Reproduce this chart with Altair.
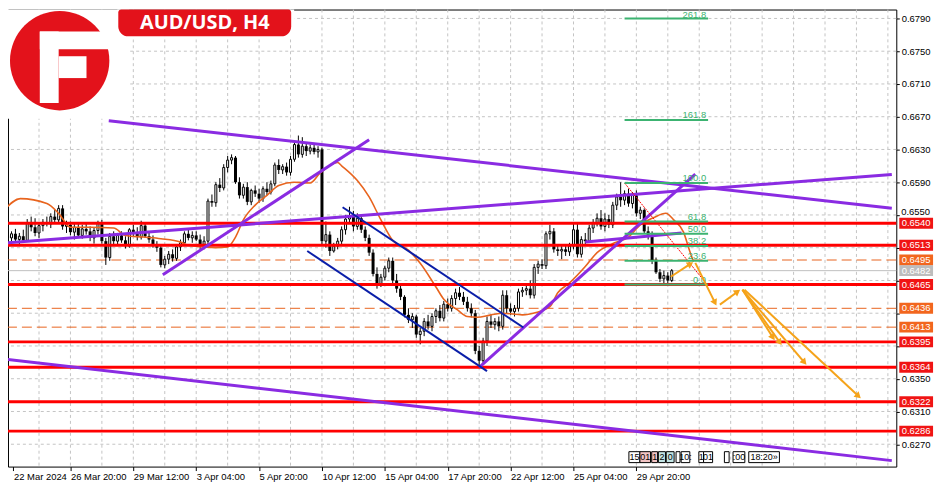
import json
import math
import altair as alt
import pandas as pd

FONT = "Liberation Sans"

# ---------------- candle data (prices in 1/10000) ----------------
OPEN = [6525,6522,6527,6520,6524,6519,6540,6535,6528,6537,
        6541,6539,6548,6544,6558,6536,6538,6529,6535,6525,
        6533,6530,6522,6531,6540,6518,6498,6524,6518,6525,
        6519,6512,6532,6528,6523,6537,6524,6520,6513,6510,
        6489,6496,6502,6497,6511,6516,6527,6522,6525,6520,
        6514,6518,6567,6565,6587,6583,6608,6617,6620,6590,
        6574,6584,6566,6580,6576,6570,6582,6578,6588,6611,
        6605,6609,6602,6618,6636,6624,6634,6628,6632,6627,
        6630,6518,6526,6506,6512,6518,6532,6545,6548,6536,
        6546,6532,6522,6504,6478,6466,6474,6485,6494,6470,
        6460,6450,6428,6422,6426,6404,6408,6420,6414,6426,
        6433,6424,6441,6436,6448,6455,6450,6444,6436,6430,
        6384,6372,6396,6420,6416,6420,6414,6452,6436,6432,
        6436,6456,6458,6460,6452,6486,6490,6488,6527,6530,
        6508,6506,6508,6505,6512,6532,6502,6520,6518,6534,
        6540,6546,6536,6545,6538,6562,6572,6568,6576,6564,
        6574,6552,6556,6530,6524,6494,6480,6472,6476,6470]
HIGH = [6532,6530,6533,6528,6532,6545,6548,6546,6540,6545,
        6548,6552,6556,6562,6562,6543,6542,6540,6540,6538,
        6540,6536,6535,6543,6544,6522,6528,6530,6528,6530,
        6524,6534,6538,6535,6543,6540,6530,6525,6518,6513,
        6500,6506,6508,6514,6520,6530,6532,6530,6530,6526,
        6524,6570,6575,6590,6595,6612,6622,6624,6622,6596,
        6588,6590,6582,6586,6582,6585,6590,6592,6614,6618,
        6612,6614,6622,6640,6647,6645,6638,6636,6636,6634,
        6632,6542,6530,6516,6522,6536,6550,6560,6555,6552,
        6550,6536,6526,6508,6486,6478,6488,6498,6498,6478,
        6464,6452,6436,6430,6428,6412,6424,6428,6430,6436,
        6440,6445,6448,6452,6460,6462,6456,6450,6442,6434,
        6390,6400,6426,6428,6424,6426,6458,6458,6442,6440,
        6460,6462,6466,6470,6490,6494,6496,6530,6538,6534,
        6514,6512,6514,6516,6540,6540,6524,6528,6538,6545,
        6552,6556,6552,6550,6566,6576,6590,6580,6582,6578,
        6580,6560,6558,6536,6530,6498,6484,6482,6480,6484]
LOW = [6518,6515,6518,6514,6517,6517,6530,6524,6522,6530,
       6536,6534,6540,6540,6532,6528,6525,6520,6522,6521,
       6526,6518,6515,6526,6515,6489,6494,6512,6514,6516,
       6509,6510,6524,6519,6520,6522,6516,6510,6505,6486,
       6485,6490,6493,6494,6506,6512,6519,6516,6518,6508,
       6508,6512,6560,6560,6578,6580,6602,6612,6588,6570,
       6570,6562,6562,6572,6565,6566,6574,6575,6585,6600,
       6600,6598,6598,6615,6620,6620,6622,6624,6624,6620,
       6512,6510,6500,6504,6508,6514,6526,6540,6530,6532,
       6528,6518,6500,6475,6460,6462,6470,6480,6466,6455,
       6446,6425,6418,6412,6400,6392,6402,6410,6408,6418,
       6420,6420,6432,6432,6440,6446,6440,6432,6425,6380,
       6365,6368,6390,6412,6410,6408,6410,6430,6428,6426,
       6432,6450,6452,6448,6448,6478,6484,6484,6520,6504,
       6500,6496,6500,6500,6508,6498,6498,6514,6516,6528,
       6536,6532,6530,6534,6534,6556,6560,6562,6560,6558,
       6548,6545,6528,6520,6490,6478,6468,6466,6464,6468]
CLOSE = [6522,6527,6520,6524,6519,6540,6535,6528,6537,6541,
         6539,6548,6544,6558,6536,6538,6529,6535,6525,6533,
         6530,6522,6531,6540,6518,6498,6524,6518,6525,6519,
         6512,6532,6528,6523,6537,6524,6520,6513,6510,6489,
         6496,6502,6497,6511,6516,6527,6522,6525,6520,6514,
         6518,6567,6565,6587,6583,6608,6617,6620,6590,6574,
         6584,6566,6580,6576,6570,6582,6578,6588,6611,6605,
         6609,6602,6618,6636,6624,6634,6628,6632,6627,6630,
         6518,6526,6506,6512,6518,6532,6545,6548,6536,6546,
         6532,6522,6504,6478,6466,6474,6485,6494,6470,6460,
         6450,6428,6422,6426,6404,6408,6420,6414,6426,6433,
         6424,6441,6436,6448,6455,6450,6444,6436,6430,6384,
         6372,6396,6420,6416,6420,6414,6452,6436,6432,6436,
         6456,6458,6460,6452,6486,6490,6488,6527,6530,6508,
         6506,6508,6505,6512,6532,6502,6520,6518,6534,6540,
         6546,6536,6545,6538,6562,6572,6568,6576,6564,6574,
         6552,6556,6530,6524,6494,6480,6472,6476,6470,6482]

# moving average (bar index, price in 1/10000)
MA_I = [-0.5, 3.25, 10, 13, 16, 21, 27, 30, 34.5, 39, 44, 46, 53, 56, 58, 60, 63, 66, 69, 73,
        77, 79.5, 84, 85, 89, 92, 95, 98, 102, 105, 109, 111, 114.5, 117, 119.5, 123, 126, 131,
        134.5, 138, 140, 143, 147, 150, 154.5, 158, 161, 164.5, 167.5, 169.5, 172, 173.5, 174.5]
MA_P = [6558, 6570, 6564, 6552, 6535, 6535, 6534, 6525, 6523, 6521, 6517, 6513, 6510, 6511, 6523,
        6544, 6562, 6574, 6586, 6590, 6589, 6601, 6614, 6610, 6592, 6572, 6544, 6519, 6507, 6491,
        6462, 6447, 6434, 6426, 6425, 6428, 6430, 6428, 6431, 6438, 6455, 6467, 6487, 6504, 6516,
        6523, 6538, 6547, 6552, 6544, 6529, 6507, 6493]

# axes
X_TICK_POS = [1.5, 16, 32, 48, 64, 80, 96, 112, 128, 144, 160]
X_TICK_LABELS = ["22 Mar 2024", "26 Mar 20:00", "29 Mar 12:00", "3 Apr 04:00", "5 Apr 20:00",
                 "10 Apr 12:00", "15 Apr 04:00", "17 Apr 20:00", "22 Apr 12:00", "25 Apr 04:00",
                 "29 Apr 20:00"]
Y_TICKS = [0.6270, 0.6310, 0.6350, 0.6390, 0.6430, 0.6470, 0.6510, 0.6550, 0.6590, 0.6630,
           0.6670, 0.6710, 0.6750, 0.6790]
Y_HIDDEN = ["0.6390", "0.6430", "0.6470", "0.6510", "0.6550"]   # covered by / drawn apart from tags
Y_RAISED = [0.6550]          # label drawn separately, nudged above the 0.6540 tag
GRID_I = list(range(8, 225, 8))

# horizontal levels
RED_LEVELS = [0.6540, 0.6513, 0.6465, 0.6395, 0.6364, 0.6322, 0.6286]
ORANGE_LEVELS = [0.6495, 0.6436, 0.6413]
CURRENT_PRICE = 0.6482

# trend lines: (i1, p1, i2, p2)
PURPLE_LINES = [(25.75, 0.66650, 225, 0.65582),
                (-0.5, 0.65157, 225, 0.65995),
                (39.5, 0.64769, 92, 0.66419),
                (120, 0.63640, 175, 0.65999),
                (147, 0.65169, 171.5, 0.65279),
                (-0.5, 0.63737, 225, 0.62500)]
BLUE_LINES = [(85.25, 0.65594, 131.25, 0.64126),
              (76.25, 0.65060, 122, 0.63592)]
ARROWS = [(168.75, 0.64745, 173.75, 0.64902),
          (175, 0.64915, 180, 0.64429),
          (181.25, 0.64405, 185.75, 0.64563),
          (187, 0.64587, 194.75, 0.64004),
          (187, 0.64587, 196.5, 0.63944),
          (187, 0.64587, 202.75, 0.63701),
          (187.5, 0.64587, 216.5, 0.63288)]

# fibonacci
FIB_LABELS = ["0.0", "23.6", "38.2", "50.0", "61.8", "100.0", "161.8", "261.8"]
FIB_PRICES = [0.6465, 0.6494, 0.6512, 0.6527, 0.6542, 0.6589, 0.6666, 0.6790]
FIB_START, FIB_END = 157, 178.25
FIB_DIAG = (157, 0.6589, 178, 0.6465)

# time markers along the bottom
TM_TEXT = ["15", "01", "1", "2", "0", "", "10:", "1", "01", "", ":00", "18:20\u00bb"]
TM_I0 = [158.1, 160.9, 163.9, 165.6, 167.6, 170.1, 171.4, 175.9, 177.1, 182.4, 184.6, 188.6]
TM_I1 = [160.9, 163.6, 165.4, 167.4, 169.6, 171.1, 173.6, 177.1, 179.4, 183.6, 187.6, 196.4]
TM_FILL = ["white", "#F2C4C4", "#F2C4C4", "#C4E6E6", "#C4E6E6", "white", "white", "white",
           "white", "white", "white", "white"]

# ---------------- build ----------------
W, H = 894, 460
PX_BAR, PX_PRICE = 4.0, 8240.0
XS = alt.Scale(domain=[1.375, 224.875], nice=False, zero=False)
YS = alt.Scale(domain=[0.62427, 0.68009], nice=False, zero=False)

X_AXIS = alt.Axis(orient="bottom", values=X_TICK_POS,
                  labelExpr=json.dumps(X_TICK_LABELS) + "[round(datum.value / 16)]",
                  title=None, grid=False, domain=False, labelAlign="left", labelBaseline="top",
                  labelOverlap=False, labelFlush=False, tickSize=4, tickColor="#000",
                  labelPadding=1, labelFont=FONT, labelFontSize=9.5, labelColor="#000")
Y_AXIS = alt.Axis(orient="right", values=Y_TICKS, title=None, grid=False,
                  labelExpr="indexof(" + json.dumps(Y_HIDDEN) + ", format(datum.value, '.4f')) >= 0"
                            " ? '' : format(datum.value, '.4f')",
                  domain=False, tickSize=3, tickColor="#000", labelPadding=2, labelFont=FONT,
                  labelFontSize=9.5, labelColor="#000", labelOverlap=False)


def X(f):
    return alt.X(f, type="quantitative", scale=XS, axis=X_AXIS)


def Y(f):
    return alt.Y(f, type="quantitative", scale=YS, axis=Y_AXIS)


cd = pd.DataFrame({"i": list(range(len(OPEN))),
                   "o": [v / 10000 for v in OPEN], "h": [v / 10000 for v in HIGH],
                   "l": [v / 10000 for v in LOW], "c": [v / 10000 for v in CLOSE]})
cd["top"] = cd[["o", "c"]].max(axis=1)
cd["bot"] = cd[["o", "c"]].min(axis=1)
bull = cd[cd["c"] >= cd["o"]]
bear = cd[cd["c"] < cd["o"]]

layers = []
# grid
layers.append(alt.Chart(pd.DataFrame({"i": GRID_I})).mark_rule(
    color="#C4C4C4", strokeDash=[3, 3], strokeWidth=1).encode(x=X("i")))
layers.append(alt.Chart(pd.DataFrame({"p": Y_TICKS})).mark_rule(
    color="#C4C4C4", strokeDash=[3, 3], strokeWidth=1).encode(y=Y("p")))
# current price line
layers.append(alt.Chart(pd.DataFrame({"p": [CURRENT_PRICE]})).mark_rule(
    color="#C0C0C0", strokeWidth=1).encode(y=Y("p")))
# orange dashed levels
layers.append(alt.Chart(pd.DataFrame({"p": ORANGE_LEVELS})).mark_rule(
    color="#E8641E", strokeDash=[10, 5], strokeWidth=1).encode(y=Y("p")))
# candles
layers.append(alt.Chart(cd).mark_rule(color="#000", strokeWidth=1).encode(
    x=X("i"), y=Y("l"), y2="h:Q"))
layers.append(alt.Chart(bull).mark_bar(size=2, fill="white", stroke="#000", strokeWidth=1).encode(
    x=X("i"), y=Y("bot"), y2="top:Q"))
layers.append(alt.Chart(bear).mark_bar(size=3, color="#000").encode(
    x=X("i"), y=Y("top"), y2="bot:Q"))
# moving average
ma = pd.DataFrame({"i": MA_I, "p": [v / 10000 for v in MA_P]})
layers.append(alt.Chart(ma).mark_line(color="#E8641E", strokeWidth=1.6, interpolate="monotone",
                                      clip=True).encode(x=X("i"), y=Y("p")))
# red levels
layers.append(alt.Chart(pd.DataFrame({"p": RED_LEVELS})).mark_rule(
    color="#FF0000", strokeWidth=3).encode(y=Y("p")))


def seg_df(rows):
    return pd.DataFrame(rows, columns=["i1", "p1", "i2", "p2"])


layers.append(alt.Chart(seg_df(PURPLE_LINES)).mark_rule(color="#8A2BE2", strokeWidth=3, clip=True)
              .encode(x=X("i1"), y=Y("p1"), x2="i2:Q", y2="p2:Q"))
layers.append(alt.Chart(seg_df(BLUE_LINES)).mark_rule(color="#0A1EA8", strokeWidth=2, clip=True)
              .encode(x=X("i1"), y=Y("p1"), x2="i2:Q", y2="p2:Q"))
# fibonacci
fib = pd.DataFrame({"p": FIB_PRICES, "t": FIB_LABELS, "i0": FIB_START, "i1": FIB_END,
                    "it": FIB_END - 0.5})
layers.append(alt.Chart(seg_df([FIB_DIAG])).mark_rule(color="#FF0000", strokeWidth=1,
                                                     strokeDash=[2, 1])
              .encode(x=X("i1"), y=Y("p1"), x2="i2:Q", y2="p2:Q"))
layers.append(alt.Chart(fib).mark_rule(color="#3CB371", strokeWidth=2).encode(
    x=X("i0"), x2="i1:Q", y=Y("p")))
layers.append(alt.Chart(fib.iloc[:-1]).mark_text(
    color="#3CB371", align="right", baseline="middle", dy=-5, font=FONT, fontSize=9.5).encode(
    x=X("it"), y=Y("p"), text="t:N"))
layers.append(alt.Chart(fib.iloc[-1:]).mark_text(
    color="#3CB371", align="right", baseline="middle", dy=-3.5, font=FONT, fontSize=9.5).encode(
    x=X("it"), y=Y("p"), text="t:N"))
# arrows
arr = seg_df(ARROWS)
arr["ang"] = [math.degrees(math.atan2((r.i2 - r.i1) * PX_BAR, (r.p2 - r.p1) * PX_PRICE)) % 360
              for r in arr.itertuples()]
AC = "#F5A31A"
layers.append(alt.Chart(arr).mark_rule(color=AC, strokeWidth=2).encode(
    x=X("i1"), y=Y("p1"), x2="i2:Q", y2="p2:Q"))
layers.append(alt.Chart(arr).mark_point(shape="triangle-up", filled=True, size=55, color=AC,
                                        opacity=1, strokeWidth=0).encode(
    x=X("i2"), y=Y("p2"), angle=alt.Angle("ang:Q", scale=None)))

# decorations: white covers, logo, title
ONE = pd.DataFrame({"k": [0]})
RED = "#E3121B"


def rect(x0, x1, y0, y1, color, **kw):
    return alt.Chart(ONE).mark_rect(color=color, opacity=1, **kw).encode(
        x=alt.value(x0), x2=alt.value(x1), y=alt.value(y0), y2=alt.value(y1))


layers.append(rect(0, 122, 0, 110, "white"))
layers.append(rect(110, 288, 0, 30, "white"))
layers.append(alt.Chart(ONE).mark_point(shape="circle", filled=True, size=10000, color=RED,
                                        opacity=1, strokeWidth=0).encode(
    x=alt.value(52), y=alt.value(51.5)))
layers.append(rect(32, 51, 22, 94, "white"))          # stem of the F
layers.append(rect(32, 106, 22, 40, "white"))         # top arm, opening the circle
layers.append(rect(51, 79, 47, 69, "white"))          # middle arm
layers.append(rect(111, 285, 0, 27, RED, cornerRadiusTopLeft=3, cornerRadiusTopRight=3,
                   cornerRadiusBottomLeft=10, cornerRadiusBottomRight=10))
layers.append(alt.Chart(ONE).mark_text(text="AUD/USD, H4", font="Open Sans", fontWeight="bold",
                                       fontSize=20, color="white", baseline="middle",
                                       align="center").encode(x=alt.value(198), y=alt.value(14)))

# price label drawn apart from the axis, nudged above its neighbouring tag
raised = pd.DataFrame({"p": Y_RAISED})
raised["t"] = [f"{v:.4f}" for v in raised["p"]]
layers.append(alt.Chart(raised).mark_text(color="#000", font=FONT, fontSize=9.5, align="left",
                                          baseline="middle", dy=-2.5).encode(
    x=alt.value(899), y=Y("p"), text="t:N"))

# right-side price tags
tags = pd.DataFrame({
    "p": RED_LEVELS + ORANGE_LEVELS + [CURRENT_PRICE],
    "fill": ["#F01414"] * len(RED_LEVELS) + ["#F2661E"] * len(ORANGE_LEVELS) + ["#BDBDBD"],
})
tags["t"] = [f"{v:.4f}" for v in tags["p"]]
BOX = "M-1,-0.324L1,-0.324L1,0.324L-1,0.324Z"
layers.append(alt.Chart(tags).mark_point(shape=BOX, filled=True, size=34 * 34, opacity=1,
                                         strokeWidth=0).encode(
    x=alt.value(914), y=Y("p"), color=alt.Color("fill:N", scale=None)))
layers.append(alt.Chart(tags).mark_text(color="white", font=FONT, fontSize=9.5, align="center",
                                        baseline="middle").encode(
    x=alt.value(914), y=Y("p"), text="t:N"))

# bottom time markers
tm = pd.DataFrame({"t": TM_TEXT, "i0": TM_I0, "i1": TM_I1, "fill": TM_FILL})
tm["im"] = (tm["i0"] + tm["i1"]) / 2
layers.append(alt.Chart(tm).mark_rect(stroke="#000", strokeWidth=1, opacity=1).encode(
    x=X("i0"), x2="i1:Q", y=alt.value(445), y2=alt.value(456),
    color=alt.Color("fill:N", scale=None)))
layers.append(alt.Chart(tm).mark_text(font=FONT, fontSize=9, color="#000", baseline="middle",
                                      align="center").encode(
    x=X("im"), y=alt.value(450.5), text="t:N"))

chart = alt.layer(*layers).properties(
    width=W, height=H,
    autosize=alt.AutoSizeParams(type="none"),
    padding={"left": 0, "top": 0, "right": 46, "bottom": 18},
).configure_view(stroke="#000", strokeWidth=1)

chart.save("out.html", embed_options={"renderer": "svg", "actions": False})
